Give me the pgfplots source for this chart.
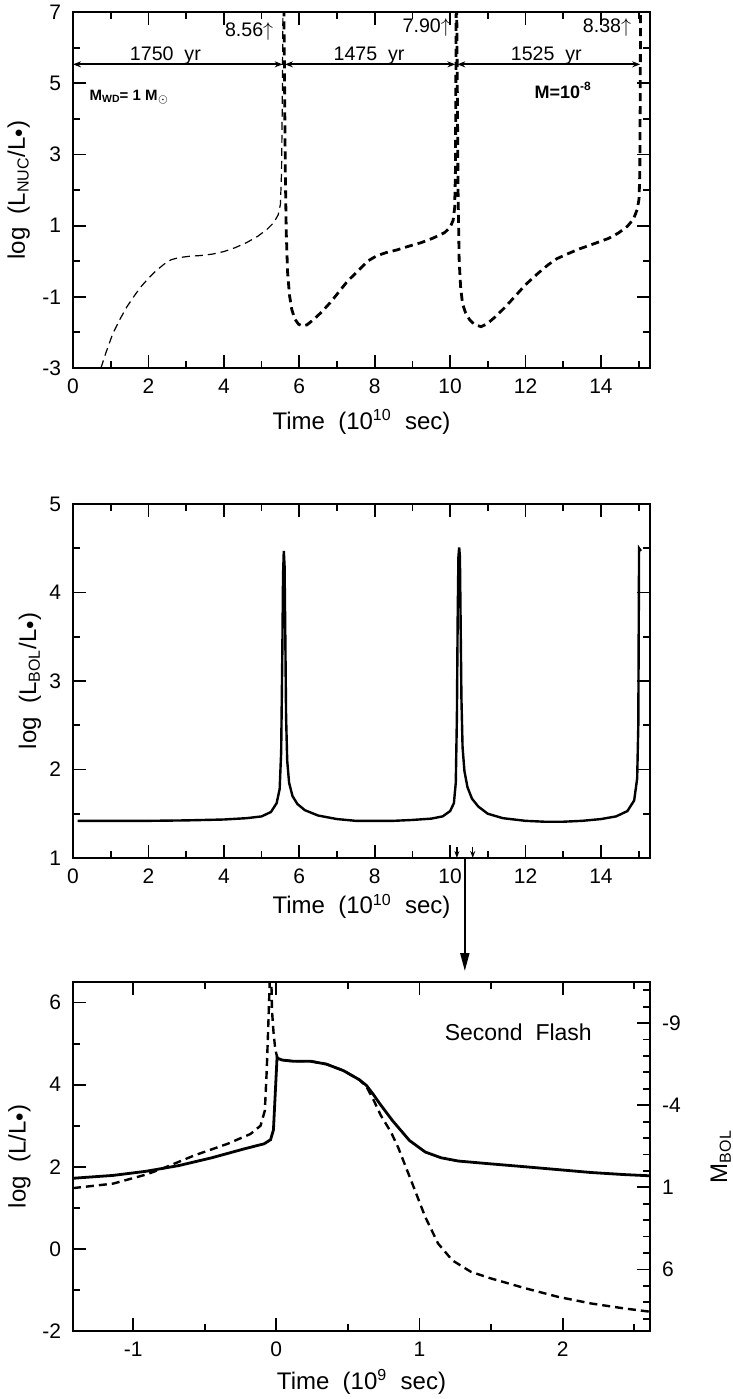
\documentclass[border=0pt]{standalone}
\usepackage{fontspec}
\setmainfont{Liberation Sans}
\usepackage{pgfplots}
\pgfplotsset{compat=1.18}
\usetikzlibrary{arrows.meta}

\pgfplotsset{
  panel/.style={
    scale only axis, width=288.5pt,
    axis line style={line width=1pt},
    tick align=inside,
    every tick/.append style={line width=0.9pt, black},
    major tick length=6.5pt, minor tick length=3.5pt,
    tick label style={font=\fontsize{10.5}{12}\selectfont},
    yticklabel style={xshift=-2.5pt},
    xticklabel style={yshift=-2pt},
    label style={font=\fontsize{12}{14}\selectfont},
    no markers,
  },
}
\tikzset{ar/.style={{Stealth[length=4pt,width=3pt]}-{Stealth[length=4pt,width=3pt]}, line width=0.9pt}}

\begin{document}
\begin{tikzpicture}
\path[use as bounding box] (0,0) rectangle (366.5pt,-699.5pt);

% top: nuclear luminosity
\begin{axis}[panel, at={(36.5pt,-6pt)}, anchor=north west, height=178pt,
  xmin=0, xmax=15.3, ymin=-3, ymax=7,
  xtick={0,2,4,6,8,10,12,14}, xticklabels={0,2,4,6,8,10,12,14},
  minor xtick={1,3,5,7,9,11,13,15},
  ytick={-3,-1,1,3,5,7}, yticklabels={-3,-1,1,3,5,7},
  minor ytick={-2,0,2,4,6},
  xlabel={Time\ \ (10\textsuperscript{10}\ \ sec)},
  ylabel={log\ \ (L\textsubscript{NUC}/L\raisebox{-1pt}{\textbullet})},
  xlabel style={at={(axis description cs:0.5,-0.151)}, anchor=center},
  ylabel style={at={(axis description cs:-0.094,0.5)}, anchor=center},
]
\addplot[black, line width=0.6pt, dash pattern=on 4pt off 2.5pt] coordinates {
(0.74,-3.0) (0.88,-2.55) (1.05,-2.05) (1.25,-1.62) (1.43,-1.28) (1.62,-0.98)
(1.80,-0.72) (2.0,-0.48) (2.2,-0.27) (2.42,-0.08) (2.6,0.04) (2.8,0.10)
(3.1,0.14) (3.4,0.16) (3.7,0.20) (4.0,0.27) (4.3,0.38) (4.6,0.52) (4.9,0.70)
(5.15,0.90) (5.32,1.08) (5.44,1.30) (5.50,1.60) (5.53,2.5) (5.55,4.5)
(5.57,7.5) (5.58,8.56)
};
\addplot[black, line width=1.4pt, dash pattern=on 4pt off 2.5pt] coordinates {
(5.58,8.56) (5.61,5.0) (5.63,2.5) (5.655,0.8) (5.69,-0.3) (5.74,-0.95)
(5.80,-1.35) (5.88,-1.62) (5.98,-1.77) (6.08,-1.82) (6.2,-1.79) (6.38,-1.64)
(6.6,-1.42) (6.84,-1.14) (7.06,-0.85) (7.28,-0.56) (7.55,-0.28) (7.81,0.00)
(8.05,0.15) (8.3,0.24) (8.6,0.32) (8.9,0.42) (9.23,0.52) (9.55,0.65)
(9.85,0.80) (10.0,0.95) (10.08,1.15) (10.12,1.5) (10.14,2.5) (10.15,4.5)
(10.16,7.0) (10.17,7.90) (10.19,5.0) (10.21,2.0) (10.24,0.0) (10.28,-0.75)
(10.33,-1.2) (10.41,-1.45) (10.52,-1.65) (10.65,-1.78) (10.82,-1.84)
(10.98,-1.76) (11.2,-1.56) (11.45,-1.3) (11.71,-1.0) (12.0,-0.66)
(12.33,-0.34) (12.6,-0.1) (12.83,0.07) (13.1,0.2) (13.44,0.35) (13.84,0.5)
(14.2,0.64) (14.46,0.79) (14.7,0.98) (14.86,1.18) (14.96,1.45) (15.01,1.75)
(15.03,2.5) (15.04,4.5) (15.05,7.0) (15.06,8.38)
};
\draw[ar] (0,5.53) -- (5.56,5.53);
\draw[ar] (5.62,5.53) -- (10.14,5.53);
\draw[ar] (10.19,5.53) -- (15.04,5.53);
\begin{scope}[every node/.style={font=\fontsize{9.8}{11}\selectfont}]
\node[anchor=base] at (2.45,5.63) {1750\ \ yr};
\node[anchor=base] at (7.85,5.63) {1475\ \ yr};
\node[anchor=base] at (12.55,5.63) {1525\ \ yr};
\node[anchor=base east, inner sep=0pt] at (5.32,6.32) {8.56$\uparrow$};
\node[anchor=base east, inner sep=0pt] at (10.03,6.42) {7.90$\uparrow$};
\node[anchor=base east, inner sep=0pt] at (14.81,6.42) {8.38$\uparrow$};
\end{scope}
\node[font=\fontsize{7.5}{9}\selectfont\bfseries] at (1.5,4.62) {M\textsubscript{WD}\kern-0.5pt= 1 M\textsubscript{$\odot$}};
\node[font=\fontsize{9}{10}\selectfont\bfseries] at (13.0,4.8) {M=10\textsuperscript{-8}};
\end{axis}

% middle: bolometric luminosity
\begin{axis}[panel, at={(36.5pt,-252pt)}, anchor=north west, height=177pt,
  xmin=0, xmax=15.3, ymin=1, ymax=5,
  xtick={0,2,4,6,8,10,12,14}, xticklabels={0,2,4,6,8,10,12,14},
  minor xtick={1,3,5,7,9,11,13,15},
  ytick={1,2,3,4,5}, yticklabels={1,2,3,4,5},
  minor ytick={1.5,2.5,3.5,4.5},
  xlabel={Time\ \ (10\textsuperscript{10}\ \ sec)},
  ylabel={log\ \ (L\textsubscript{BOL}/L\raisebox{-1pt}{\textbullet})},
  xlabel style={at={(axis description cs:0.5,-0.137)}, anchor=center},
  ylabel style={at={(axis description cs:-0.0745,0.5)}, anchor=center},
]
\addplot[black, line width=1.2pt] coordinates {
(0.12,1.42) (1,1.42) (2,1.42) (3,1.425) (4,1.435) (4.6,1.45) (5.0,1.47)
(5.25,1.52) (5.40,1.62) (5.48,1.78) (5.52,2.2) (5.55,3.3) (5.57,4.2)
(5.59,4.47) (5.61,4.3) (5.63,3.5) (5.65,2.6) (5.68,2.1) (5.73,1.85)
(5.82,1.70) (5.95,1.61) (6.15,1.54) (6.5,1.48) (7.0,1.44) (7.5,1.42)
(8.0,1.42) (8.5,1.42) (9.0,1.43) (9.5,1.445) (9.8,1.47) (10.0,1.53)
(10.1,1.62) (10.15,1.85) (10.18,2.6) (10.2,3.7) (10.22,4.4) (10.24,4.51)
(10.26,4.4) (10.28,3.6) (10.3,2.8) (10.33,2.25) (10.38,1.98) (10.46,1.80)
(10.58,1.67) (10.75,1.58) (11.0,1.50) (11.4,1.45) (12.0,1.42) (12.5,1.41)
(13.0,1.41) (13.5,1.42) (14.0,1.44) (14.4,1.47) (14.7,1.53) (14.88,1.65)
(14.96,1.9) (14.99,2.5) (15.0,3.5) (15.01,4.5) (15.06,4.47)
};
\draw[-{Stealth[length=3.5pt,width=2.5pt]}, line width=0.7pt] (10.18,1.13) -- (10.18,1.0);
\draw[-{Stealth[length=3.5pt,width=2.5pt]}, line width=0.7pt] (10.6,1.13) -- (10.6,1.0);
\coordinate (arrtop) at (10.39,1);
\end{axis}
\draw[line width=1pt, -{Triangle[length=9pt,width=4.5pt]}] (arrtop) -- ++(0,-56.5pt);

% bottom: second flash, left scale
\begin{axis}[panel, at={(36.5pt,-491pt)}, anchor=north west, height=174.5pt,
  xmin=-1.42, xmax=2.61, ymin=-2, ymax=6.5,
  xtick={-1,0,1,2}, xticklabels={-1,0,1,2},
  minor xtick={-0.5,0.5,1.5,2.5},
  ytick={-2,0,2,4,6}, yticklabels={-2,0,2,4,6},
  minor ytick={-1,1,3,5},
  ytick pos=left,
  xlabel={Time\ \ (10\textsuperscript{9}\ \ sec)},
  ylabel={log\ \ (L/L\raisebox{-1pt}{\textbullet})},
  xlabel style={at={(axis description cs:0.5,-0.145)}, anchor=center},
  ylabel style={at={(axis description cs:-0.093,0.5)}, anchor=center},
]
\addplot[black, line width=1.4pt] coordinates {
(-1.42,1.72) (-1.14,1.79) (-0.91,1.89) (-0.68,2.03) (-0.45,2.22) (-0.22,2.44)
(-0.085,2.56) (-0.04,2.66) (-0.02,2.9) (-0.01,3.6) (0.0,4.3) (0.005,4.65)
(0.04,4.6) (0.12,4.57) (0.24,4.57) (0.35,4.5) (0.47,4.34) (0.58,4.12)
(0.63,3.98) (0.68,3.75) (0.72,3.55) (0.81,3.13) (0.93,2.64) (1.04,2.36)
(1.15,2.22) (1.27,2.14) (1.5,2.07) (1.74,2.0) (1.97,1.93) (2.2,1.86)
(2.43,1.81) (2.61,1.78)
};
\addplot[black, line width=1.2pt, dash pattern=on 4pt off 2.5pt] coordinates {
(-1.42,1.48) (-1.14,1.59) (-0.91,1.81) (-0.80,1.95) (-0.57,2.28) (-0.34,2.56)
(-0.18,2.80) (-0.11,3.0) (-0.08,3.37) (-0.067,4.34) (-0.055,5.55) (-0.045,6.6)
(-0.04,7.0) (-0.035,6.6) (-0.03,5.8) (-0.02,5.3) (-0.01,4.95) (0.0,4.75)
(0.01,4.64) (0.04,4.6) (0.12,4.57) (0.24,4.57) (0.35,4.5) (0.47,4.34)
(0.58,4.12) (0.63,3.95) (0.68,3.62) (0.73,3.25) (0.8,2.85) (0.85,2.48)
(0.95,1.59) (1.04,0.78) (1.13,0.13) (1.23,-0.28) (1.36,-0.56) (1.5,-0.72)
(1.74,-0.96) (1.97,-1.17) (2.2,-1.33) (2.43,-1.45) (2.61,-1.53)
};
\node[font=\fontsize{11.5}{13}\selectfont] at (1.69,5.27) {Second\ \ Flash};
\end{axis}

% bottom: second flash, bolometric magnitude scale
\begin{axis}[panel, at={(36.5pt,-491pt)}, anchor=north west, height=174.5pt,
  xmin=-1.42, xmax=2.61, ymin=-2, ymax=6.5,
  hide x axis, axis y line*=right,
  ytick={5.5,3.5,1.5,-0.5}, yticklabels={-9,-4,1,6},
  minor ytick={6.3,5.9,5.1,4.7,4.3,3.9,3.1,2.7,2.3,1.9,1.1,0.7,0.3,-0.1,-0.9,-1.3,-1.7},
  yticklabel style={xshift=5pt},
  ylabel={M\textsubscript{BOL}},
  ylabel style={at={(axis description cs:1.1227,0.5)}, anchor=center},
]
\end{axis}
\end{tikzpicture}
\end{document}
